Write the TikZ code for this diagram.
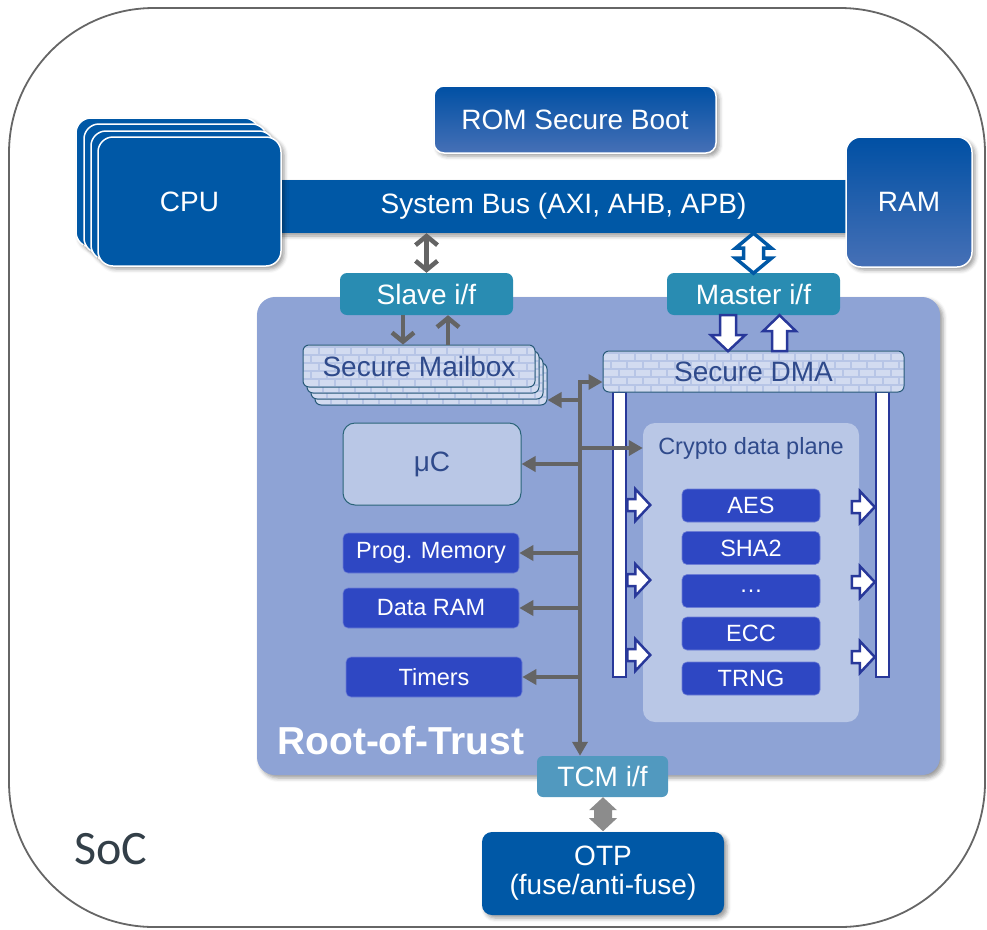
\documentclass[tikz,border=0pt]{standalone}
\usepackage{fontspec}
\setmainfont{Liberation Sans}
\newfontfamily\socfont{Carlito}
\usetikzlibrary{arrows.meta,shadows.blur,calc}
\definecolor{socblue}{RGB}{0,88,166}
\definecolor{gradtop}{RGB}{0,80,164}
\definecolor{gradbot}{RGB}{70,112,182}
\definecolor{iftea}{RGB}{41,140,178}
\definecolor{tcmtea}{RGB}{81,153,191}
\definecolor{rotfill}{RGB}{142,163,213}
\definecolor{lightfill}{RGB}{185,199,230}
\definecolor{cryptoblue}{RGB}{46,71,195}
\definecolor{darktext}{RGB}{47,74,139}
\definecolor{navy}{RGB}{40,56,154}
\definecolor{gline}{RGB}{100,100,100}
\definecolor{gblock}{RGB}{140,140,140}
\definecolor{ucborder}{RGB}{42,100,120}
\definecolor{brickc}{RGB}{210,219,240}
\definecolor{mortar}{RGB}{183,197,230}
\definecolor{brickborder}{RGB}{40,90,120}
\definecolor{soctext}{RGB}{51,63,72}
\definecolor{soclinec}{RGB}{102,102,102}
\tikzset{
  shad/.style={blur shadow={shadow xshift=3pt,shadow yshift=-3pt,shadow blur radius=4pt,shadow opacity=40}},
  bigtxt/.style={font=\fontsize{28}{31}\selectfont},
  smalltxt/.style={font=\fontsize{23.5}{26}\selectfont},
  cpubox/.style={rounded corners=15pt,fill=socblue,draw=white,line width=1.5pt,text=white,inner sep=0pt,bigtxt,shad,minimum width=183pt,minimum height=129pt},
  gradbox/.style={rounded corners=#1,top color=gradtop,bottom color=gradbot,draw=white,line width=1.5pt,text=white,inner sep=0pt,bigtxt,shad},
  busbar/.style={fill=socblue,text=white,inner sep=0pt,bigtxt,shad,minimum width=575pt,minimum height=53pt},
  rotpanel/.style={rounded corners=18pt,fill=rotfill,shad,minimum width=683pt,minimum height=478pt,inner sep=0pt},
  cpanel/.style={rounded corners=12pt,fill=lightfill,minimum width=216pt,minimum height=299pt,inner sep=0pt},
  plabel/.style={text=darktext,smalltxt,inner sep=0pt},
  cbox/.style={rounded corners=5pt,fill=cryptoblue,draw=cryptoblue!70!white,line width=0.6pt,text=white,smalltxt,minimum width=138pt,minimum height=33pt,inner sep=0pt},
  lbox/.style={rounded corners=5pt,fill=cryptoblue,draw=cryptoblue!70!white,line width=0.6pt,text=white,smalltxt,minimum width=176pt,minimum height=40pt,inner sep=0pt},
  ucbox/.style={rounded corners=12pt,fill=lightfill,draw=ucborder,line width=1pt,text=darktext,bigtxt,minimum width=178pt,minimum height=82pt,inner sep=0pt},
  ifbox/.style={rounded corners=7pt,fill=iftea,text=white,bigtxt,minimum width=173pt,minimum height=42pt,inner sep=0pt},
  tcmbox/.style={rounded corners=6pt,fill=tcmtea,text=white,bigtxt,minimum width=131pt,minimum height=41pt,inner sep=0pt},
  otpbox/.style={rounded corners=10pt,fill=socblue,text=white,bigtxt,align=center,shad,minimum width=242pt,minimum height=83pt,inner sep=0pt},
  brickbox/.style={rounded corners=6pt,draw=brickborder,line width=1pt,text=darktext,bigtxt,inner sep=0pt},
  rail/.style={fill=white,draw=navy,line width=2.5pt,minimum width=13pt,minimum height=285pt,inner sep=0pt},
  garrow/.style={draw=gline,line width=3.5pt,-{Triangle[length=14pt,width=15pt]}},
  chev/.style={draw=gline,line width=4.5pt,line join=miter},
  navyblock/.style={draw=navy,fill=white,line width=2.5pt,line join=miter},
  blueblock/.style={draw=socblue,fill=white,line width=3.5pt,line join=miter},
  grayblock/.style={fill=gblock},
}
\newcommand\bricks[4]{%
  \begin{scope}
    \clip[rounded corners=6pt] (#1,#2) rectangle (#3,#4);
    \fill[brickc] (#1,#2) rectangle (#3,#4);
    \foreach \r in {0,...,6}{
      \pgfmathsetmacro\yy{#2+2+\r*8}
      \pgfmathsetmacro\off{mod(\r,2)*8}
      \draw[mortar,line width=1.4pt] (#1,\yy) -- (#3,\yy);
      \foreach \c in {0,...,20}{
        \pgfmathsetmacro\xx{#1+\off+\c*16}
        \draw[mortar,line width=1.4pt] (\xx,\yy) -- (\xx,\yy+8);
      }
    }
  \end{scope}}
\begin{document}
\begin{tikzpicture}[x=1pt,y=-1pt]
\useasboundingbox (0,0) rectangle (987,929);
% SoC border
\draw[soclinec,line width=1.8pt,rounded corners=145pt] (9,8) rectangle (985,927);
\node[font=\socfont\fontsize{48}{50}\selectfont,text=soctext,anchor=base west,inner sep=0pt] (soclabel) at (74,864) {SoC};
% system bus
\node[busbar] (bus) at (563.5,206.5) {System Bus (AXI, AHB, APB)};
% CPU stack
\foreach \i/\dx/\dy in {3/-22/-19,2/-14/-13,1/-7/-6}
  \node[cpubox] (cpu\i) at (189.5+\dx,201.5+\dy) {};
\node[cpubox] (cpu) at (189.5,201.5) {CPU};
% RAM
\node[gradbox=15pt,minimum width=126pt,minimum height=130pt] (ram) at (909,202) {RAM};
% ROM
\node[gradbox=10pt,minimum width=282pt,minimum height=67pt] (rom) at (575,119.5) {ROM Secure Boot};
% Root of trust panel
\node[rotpanel] (rot) at (598.5,536) {};
\node[font=\bfseries\fontsize{39}{42}\selectfont,text=white,anchor=base west,inner sep=0pt] (rotlabel) at (277,754) {Root-of-Trust};
% crypto data plane
\node[cpanel] (cdp) at (751,572.5) {};
\node[plabel] (cdptitle) at (751,448) {Crypto data plane};
% rails
\node[rail] (lrail) at (619.5,534.5) {};
\node[rail] (rrail) at (882.5,534.5) {};
\foreach \yy in {505,580,655}{
  \draw[navyblock] (lrail.east |- 0,\yy) ++(0,-6) -- ++(8,0) -- ++(0,-10) -- ++(15,16) -- ++(-15,16) -- ++(0,-10) -- ++(-8,0) -- cycle;
  \draw[navyblock] ($(rrail.west |- 0,\yy)+(-23,2)$) ++(0,-6) -- ++(8,0) -- ++(0,-10) -- ++(15,16) -- ++(-15,16) -- ++(0,-10) -- ++(-8,0) -- cycle;
}
% crypto boxes
\node[cbox] (aes) at (751,505.5) {AES};
\node[cbox] (sha) at (751,548) {SHA2};
\node[cbox] (dots) at (751,591) {…};
\node[cbox] (ecc) at (751,633.5) {ECC};
\node[cbox] (trng) at (751,678.5) {TRNG};
% left boxes
\node[ucbox] (uc) at (432,464) {μC};
\node[lbox] (prog) at (431,553) {Prog. Memory};
\node[lbox] (dram) at (431,608) {Data RAM};
\node[lbox] (timers) at (434,677) {Timers};
% secure mailbox stack
\bricks{315}{363}{547}{405}
\node[brickbox,minimum width=232pt,minimum height=42pt] (mb3) at (431,384) {};
\bricks{311}{357}{543}{399}
\node[brickbox,minimum width=232pt,minimum height=42pt] (mb2) at (427,378) {};
\bricks{307}{351}{539}{393}
\node[brickbox,minimum width=232pt,minimum height=42pt] (mb1) at (423,372) {};
\bricks{303}{345}{535}{387}
\node[brickbox,minimum width=232pt,minimum height=42pt] (mb) at (419,366) {Secure Mailbox};
% secure DMA
\bricks{603}{351}{904}{392}
\node[brickbox,minimum width=301pt,minimum height=41pt] (dma) at (753.5,371.5) {Secure DMA};
% interfaces
\node[ifbox] (slave) at (426.5,294) {Slave i/f};
\node[ifbox] (master) at (753.5,294) {Master i/f};
\node[tcmbox] (tcm) at (602.5,776.5) {TCM i/f};
\node[otpbox] (otp) at (603,873.5) {OTP\\[-2pt](fuse/anti-fuse)};
% bus <-> slave
\draw[chev,{Straight Barb[length=9pt,width=22pt]}-{Straight Barb[length=9pt,width=22pt]}] (bus.south -| slave.north) -- (slave.north);
\coordinate (sd) at ($(slave.south)+(-23.5,0)$);
\coordinate (su) at ($(slave.south)+(21.5,0)$);
\draw[chev,-{Straight Barb[length=9pt,width=22pt]}] (sd) -- (sd |- mb.north);
\draw[chev,-{Straight Barb[length=9pt,width=22pt]}] (su |- mb.north) -- (su);
% bus <-> master
\coordinate (bm) at (master.north |- bus.south);
\draw[blueblock] (bm) -- ++(18,15) -- ++(-8,0) -- ++(0,10) -- ++(8,0) -- ++(-18,15) -- ++(-18,-15) -- ++(8,0) -- ++(0,-10) -- ++(-8,0) -- cycle;
\coordinate (md) at ($(master.south)+(-25.5,0)$);
\coordinate (mu) at ($(master.south)+(26,0)$);
\draw[navyblock] (md) ++(-8,0) -- ++(16,0) -- ++(0,20) -- ++(9,0) -- ++(-17,16) -- ++(-17,-16) -- ++(9,0) -- cycle;
\draw[navyblock] (mu) ++(-7.5,36) -- ++(15,0) -- ++(0,-20) -- ++(9,0) -- ++(-16.5,-16) -- ++(-16.5,16) -- ++(9,0) -- cycle;
% gray internal bus
\coordinate (gtop) at (580,382);
\draw[draw=gline,line width=3.5pt,line join=miter,{Triangle[length=14pt,width=15pt]}-{Triangle[length=14pt,width=15pt]}] (gtop -| dma.west) -- (gtop) -- (gtop |- tcm.north);
\coordinate (mbc) at (580,400);
\draw[garrow] (mbc) -- (mbc -| mb3.east);
\coordinate (cpc) at (580,448);
\draw[garrow] (cpc) -- (cpc -| cdp.west);
\foreach \n in {uc,prog,dram,timers}
  \draw[garrow] (gtop |- \n.east) -- (\n.east);
% TCM <-> OTP
\coordinate (to) at (otp.north |- tcm.south);
\fill[grayblock] (to) -- ++(14,13) -- ++(-5,0) -- ++(0,8) -- ++(5,0) -- ++(-14,13) -- ++(-14,-13) -- ++(5,0) -- ++(0,-8) -- ++(-5,0) -- cycle;
\end{tikzpicture}
\end{document}
